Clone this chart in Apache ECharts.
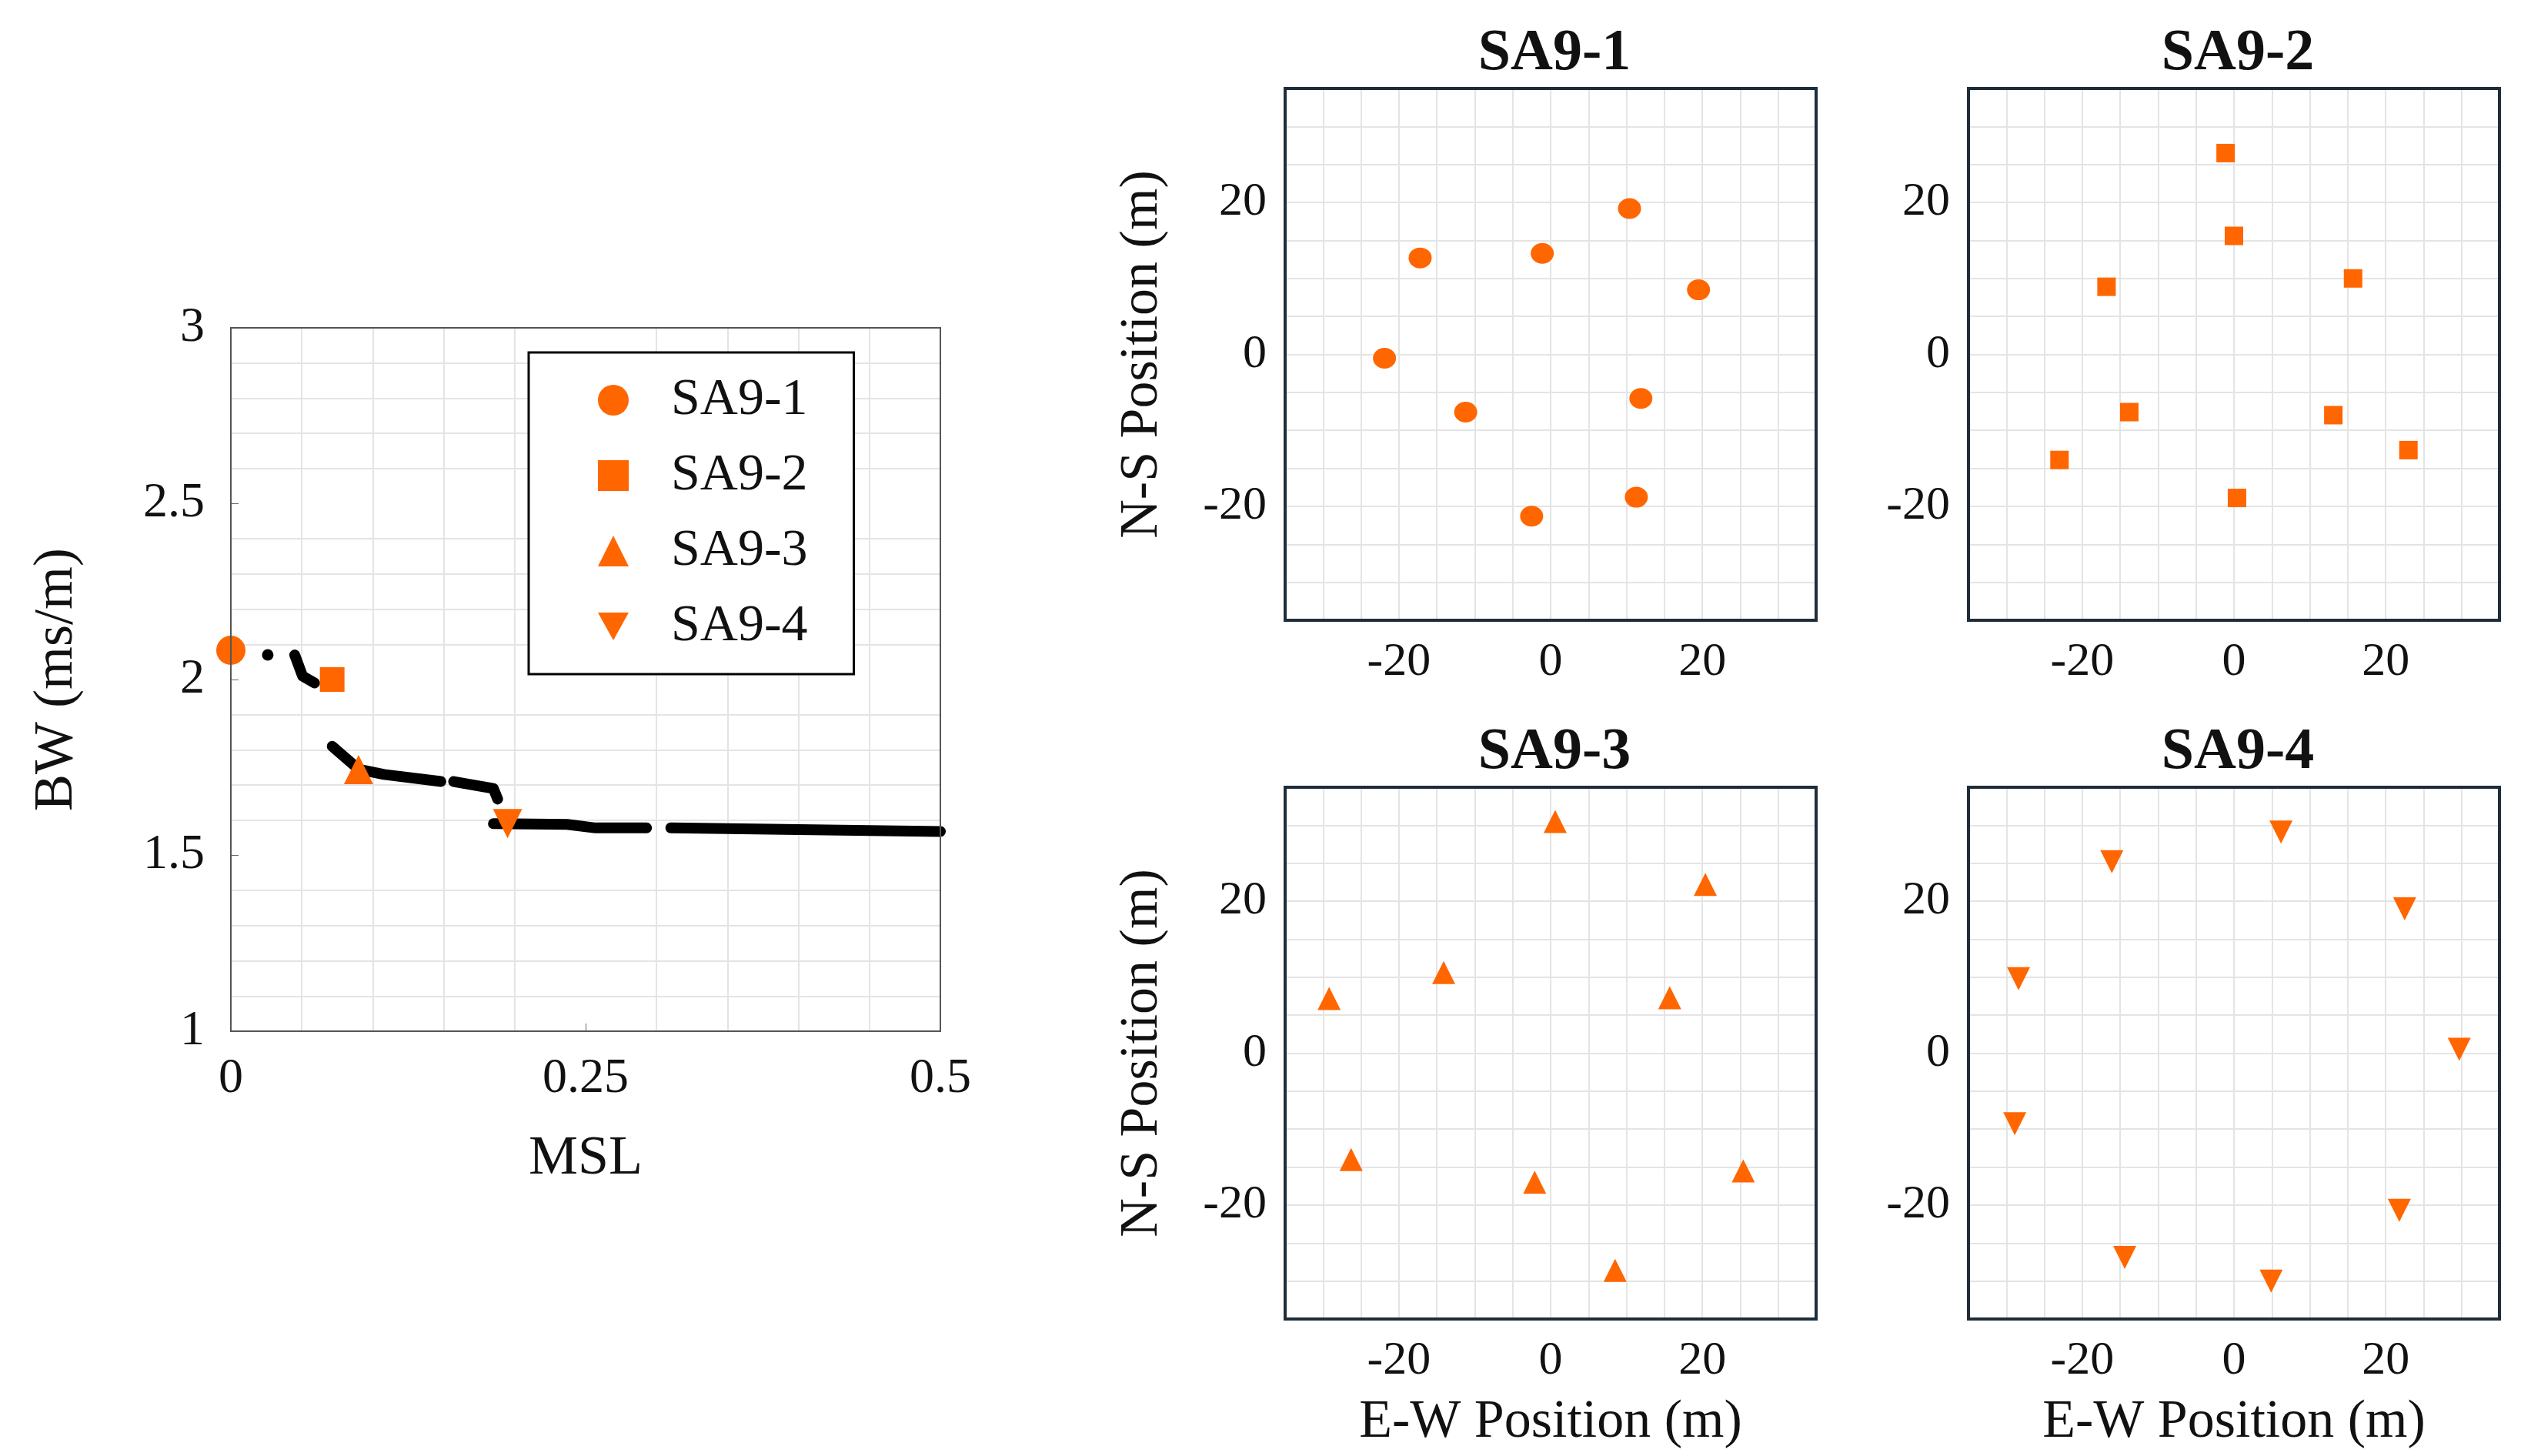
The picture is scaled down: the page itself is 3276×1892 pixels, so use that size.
<!DOCTYPE html>
<html><head><meta charset="utf-8">
<script src="https://cdn.jsdelivr.net/npm/echarts@6/dist/echarts.min.js"></script>
<style>html,body{margin:0;background:#fff}#c{width:3276px;height:1892px}</style>
</head><body><div id="c"></div>
<script>
// BW vs MSL curve (black), null = gap
const curve = [[0.045,2.07],[0.0505,2.01],[0.059,1.99],null,
  [0.0714,1.81],[0.09,1.745],[0.108,1.73],[0.148,1.71],null,
  [0.157,1.71],[0.185,1.69],[0.188,1.66],null,
  [0.185,1.59],[0.237,1.588],[0.257,1.578],[0.293,1.578],null,
  [0.31,1.578],[0.5,1.568]];
const curveDot = [[0.026,2.07]];
const markSA1 = [[0,2.083]], markSA2 = [[0.0714,2.0]], markSA3 = [[0.09,1.744]], markSA4 = [[0.195,1.59]];
const sa1 = [[-17.2,12.7],[-1.1,13.3],[10.4,19.2],[19.5,8.5],[-21.9,-0.5],[-11.2,-7.6],[11.9,-5.8],[11.3,-18.8],[-2.5,-21.3]];
const sa2 = [[-1.1,26.5],[0,15.6],[-16.8,8.9],[15.7,10],[-13.8,-7.6],[13.1,-8],[23,-12.6],[-23,-13.9],[0.4,-18.9]];
const sa3 = [[0.6,30.5],[20.4,22.2],[-14.1,10.6],[-29.2,7.2],[15.7,7.3],[-26.3,-14],[-2.1,-17],[25.4,-15.5],[8.5,-28.6]];
const sa4 = [[6.2,29.1],[-16.1,25.2],[22.5,19],[-28.4,9.8],[29.7,0.5],[-28.9,-9.3],[21.8,-20.7],[-14.4,-26.9],[4.9,-30]];
const names = ['SA9-1','SA9-2','SA9-3','SA9-4'];

const OR = '#ff6600', F = "'Liberation Serif', 'DejaVu Serif', serif", FR = '#1f2d3a';
const panels = [[1670,115],[2558,115],[1670,1023],[2558,1023]];
const grids = [{left:300,top:426,width:922,height:914}]
  .concat(panels.map(p=>({left:p[0],top:p[1],width:690,height:691})));
const gridLine = {show:true,lineStyle:{color:'#e4e4e4',width:2}};
const xAxis = [{type:'value',gridIndex:0,min:0,max:0.5,interval:0.25,
  axisLine:{show:false},axisTick:{inside:true,length:10,lineStyle:{color:'#666'}},
  axisLabel:{fontFamily:F,fontSize:64,color:'#111',margin:30,formatter:v=>String(v)},
  splitLine:{show:false},minorTick:{show:false,splitNumber:5},minorSplitLine:gridLine,
  name:'MSL',nameLocation:'middle',nameGap:130,nameTextStyle:{fontFamily:F,fontSize:72,color:'#111'}}];
const yAxis = [{type:'value',gridIndex:0,min:1,max:3,interval:0.5,
  axisLine:{show:false},axisTick:{inside:true,length:10,lineStyle:{color:'#666'}},
  axisLabel:{fontFamily:F,fontSize:64,color:'#111',margin:34,formatter:v=>String(v)},
  splitLine:{show:false},minorTick:{show:false,splitNumber:5},minorSplitLine:gridLine,
  name:'BW (ms/m)',nameLocation:'middle',nameGap:190,nameTextStyle:{fontFamily:F,fontSize:72,color:'#111'}}];
for(let i=1;i<=4;i++){
  const lab = {fontFamily:F,fontSize:62,color:'#111',margin:24,formatter:v=>(v%20===0?String(v):'')};
  xAxis.push({type:'value',gridIndex:i,min:-35,max:35,interval:5,axisLine:{show:false},
    axisTick:{show:false},axisLabel:lab,splitLine:gridLine,
    name:i>2?'E-W Position (m)':'',nameLocation:'middle',nameGap:100,nameTextStyle:{fontFamily:F,fontSize:70,color:'#111'}});
  yAxis.push({type:'value',gridIndex:i,min:-35,max:35,interval:5,axisLine:{show:false},
    axisTick:{show:false},axisLabel:lab,splitLine:gridLine,
    name:(i%2===1)?'N-S Position (m)':'',nameLocation:'middle',nameGap:150,nameTextStyle:{fontFamily:F,fontSize:70,color:'#111'}});
}
const DOWN = 'path://M0,0 L10,0 L5,9 Z';
const syms = ['circle','rect','triangle',DOWN];
const marks = [markSA1,markSA2,markSA3,markSA4];
const pts = [sa1,sa2,sa3,sa4];
const series = [
  {type:'line',xAxisIndex:0,yAxisIndex:0,data:curve,symbol:'none',connectNulls:false,
   lineStyle:{color:'#000',width:14,cap:'round',join:'round'},z:2},
  {type:'scatter',xAxisIndex:0,yAxisIndex:0,data:curveDot,symbolSize:15,itemStyle:{color:'#000',opacity:1},z:2}
];
names.forEach((n,i)=>{
  series.push({type:'scatter',name:n,xAxisIndex:0,yAxisIndex:0,data:marks[i],symbol:syms[i],
    symbolSize:i===1?32:38,itemStyle:{color:OR,opacity:1},z:5});
  series.push({type:'scatter',name:n,xAxisIndex:i+1,yAxisIndex:i+1,data:pts[i],symbol:syms[i],
    symbolSize:i===0?[30,27]:(i===1?24:30),itemStyle:{color:OR,opacity:1},z:5});
});
const frames = [{shape:{x:300,y:426,width:922,height:914},style:{fill:'none',stroke:'#555',lineWidth:2}}]
  .concat(panels.map(p=>({shape:{x:p[0],y:p[1],width:690,height:691},style:{fill:'none',stroke:FR,lineWidth:4}})))
  .map(o=>Object.assign({type:'rect',z:50,silent:true},o));
const chart = echarts.init(document.getElementById('c'));
chart.setOption({
  backgroundColor:'#fff',animation:false,
  title:names.map((n,i)=>({text:n,left:panels[i][0]+345,top:panels[i][1]-88,textAlign:'center',
    textStyle:{fontFamily:F,fontSize:76,fontWeight:'bold',color:'#111'}})),
  legend:{data:names.map((n,i)=>({name:n,icon:syms[i]==='rect'?'rect':syms[i],itemStyle:{color:OR,opacity:1}})),
    orient:'vertical',left:687,top:458,width:430,padding:[28,60,28,90],itemGap:30,itemWidth:40,itemHeight:40,
    borderColor:'#000',borderWidth:3,backgroundColor:'#fff',z:60,
    textStyle:{fontFamily:F,fontSize:68,color:'#111',padding:[0,0,0,50]}},
  graphic:frames,
  grid:grids,xAxis:xAxis,yAxis:yAxis,series:series
});
</script></body></html>
